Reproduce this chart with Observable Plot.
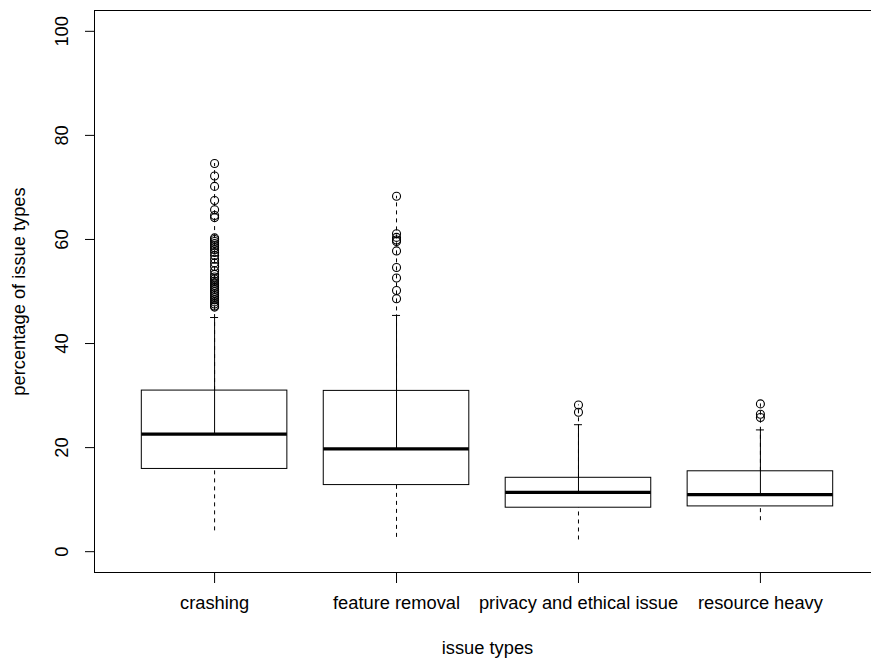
<!DOCTYPE html>
<html>
<head>
<meta charset="utf-8">
<script src="https://cdn.jsdelivr.net/npm/d3@7"></script>
<script src="https://cdn.jsdelivr.net/npm/@observablehq/plot@0.6"></script>
<style>
  html, body { margin: 0; padding: 0; background: #fff; overflow: hidden; }
  #chart { width: 871px; height: 661px; overflow: hidden; }
  #chart svg { max-width: none !important; }
</style>
</head>
<body>
<div id="chart"></div>
<script>
const categories = ["crashing", "feature removal", "privacy and ethical issue", "resource heavy"];
const lowerWhisker = [4.0, 2.75, 2.25, 5.96];
const q1 = [15.9, 12.8, 8.45, 8.7];
const medians = [22.6, 19.75, 11.4, 10.96];
const q3 = [30.96, 30.9, 14.2, 15.45];
const upperFence = [45.0, 45.4, 24.4, 23.4];
const maxima = [74.6, 68.3, 28.2, 28.4];
const outliersCrashing = [74.6, 72.2, 70.2, 67.5, 65.7, 64.6, 64.2, 60.3, 60.0, 59.6, 59.2, 58.8, 58.4, 58.0, 57.5, 56.9, 56.2, 55.5, 54.8, 54.0, 53.3, 52.8, 52.4, 52.0, 51.6, 51.2, 50.8, 50.4, 50.0, 49.6, 49.2, 48.8, 48.4, 48.0, 47.6, 47.2, 47.0];
const outliersFeature = [68.3, 61.1, 60.4, 59.9, 59.6, 57.8, 54.6, 52.6, 50.2, 48.6];
const outliersPrivacy = [28.2, 26.8];
const outliersResource = [28.4, 26.4, 25.8];
const yTicks = [0, 20, 40, 60, 80, 100];

const outlierLists = [outliersCrashing, outliersFeature, outliersPrivacy, outliersResource];
const boxes = categories.map((c, i) => ({
  cat: c, x: i + 1, lo: lowerWhisker[i], q1: q1[i], med: medians[i],
  q3: q3[i], hi: upperFence[i], max: maxima[i]
}));
const outliers = outlierLists.flatMap((arr, i) => arr.map(v => ({x: i + 1, y: v})));

const font = "'Liberation Sans', Arial, Helvetica, sans-serif";
const fs = 18.3;
const half = 0.4, cap = 0.022;

const chart = Plot.plot({
  width: 880,
  height: 661,
  marginLeft: 94,
  marginRight: 0,
  marginTop: 10,
  marginBottom: 89,
  style: {fontFamily: font, fontSize: fs + "px", color: "#000", background: "#fff", overflow: "visible", maxWidth: "none"},
  x: {domain: [0.34, 4.66], label: null},
  y: {domain: [-4, 104], label: null},
  marks: [
    Plot.ruleX(boxes, {x: "x", y1: "lo", y2: "q1", stroke: "#000", strokeDasharray: "4,4"}),
    Plot.ruleX(boxes, {x: "x", y1: "q3", y2: "max", stroke: "#000", strokeDasharray: "4,4"}),
    Plot.ruleX(boxes, {x: "x", y1: "med", y2: "hi", stroke: "#000"}),
    Plot.ruleY(boxes, {y: "hi", x1: d => d.x - cap, x2: d => d.x + cap, stroke: "#000"}),
    Plot.rect(boxes, {x1: d => d.x - half, x2: d => d.x + half, y1: "q1", y2: "q3", fill: "none", stroke: "#000", strokeWidth: 1}),
    Plot.ruleY(boxes, {y: "med", x1: d => d.x - half, x2: d => d.x + half, stroke: "#000", strokeWidth: 3.4}),
    Plot.dot(outliers, {x: "x", y: "y", r: 4, stroke: "#000", fill: "none", strokeWidth: 1.1}),
    Plot.frame({stroke: "#000"}),
    Plot.axisX({ticks: [1, 2, 3, 4], tickFormat: d => categories[d - 1], tickSize: 11, tickPadding: 12, fontSize: fs, label: null}),
    Plot.axisY({ticks: yTicks, tickSize: 9, tickPadding: 18, tickRotate: -90, textAnchor: "middle", lineAnchor: "bottom", fontSize: fs, label: null}),
    Plot.text(["issue types"], {frameAnchor: "bottom", dy: 81, textAnchor: "middle", fontSize: fs, fill: "#000"}),
    Plot.text(["percentage of issue types"], {frameAnchor: "left", dx: -75, rotate: -90, textAnchor: "middle", fontSize: fs, fill: "#000"})
  ]
});
document.getElementById("chart").appendChild(chart);
</script>
</body>
</html>
